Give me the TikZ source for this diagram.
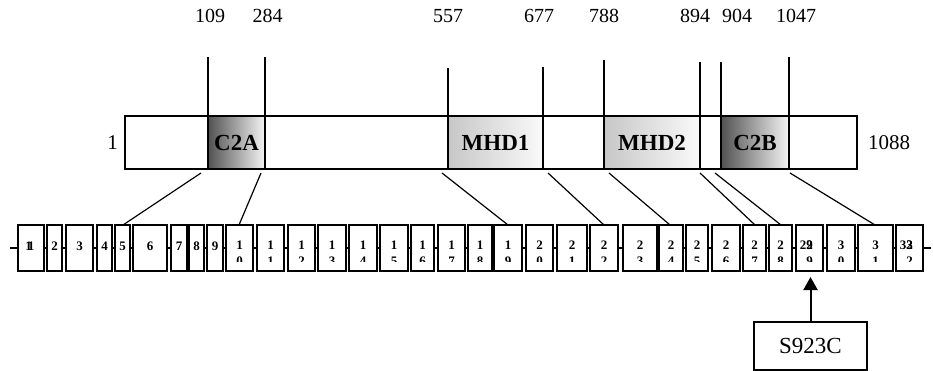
\documentclass[tikz,border=0pt]{standalone}
\usepackage{fontspec}
\setmainfont{Liberation Serif}
\usetikzlibrary{arrows.meta}
\begin{document}
\begin{tikzpicture}[x=1pt,y=-1pt,
  seg/.style={draw=black,line width=1.6pt,inner sep=0pt,outer sep=0pt,minimum height=53pt,font=\fontsize{23}{26}\selectfont\bfseries},
  c2/.style={left color=black!68,right color=black!4},
  mhd/.style={left color=black!22,right color=black!2},
  exon/.style={draw=black,fill=white,line width=1.6pt,inner sep=0pt,outer sep=0pt,minimum height=46pt},
  elab/.style={inner sep=0pt,anchor=base,font=\fontsize{13}{15}\selectfont\bfseries},
  num/.style={inner sep=0pt,anchor=base,font=\fontsize{20}{24}\selectfont},
  tick/.style={line width=1.1pt},
  conn/.style={line width=1.2pt},
]
\useasboundingbox (0,0) rectangle (933,371);
% axis line
\coordinate (axL) at (10,248);
\coordinate (axR) at (931,248);
\draw[line width=1.3pt] (axL) -- (axR);
% protein bar
\node[seg,minimum width=83pt] (b0) at (166.5,142.5) {};
\node[seg,c2,minimum width=57pt] (C2A) at (236.5,142.5) {C2A};
\node[seg,minimum width=183pt] (b1) at (356.5,142.5) {};
\node[seg,mhd,minimum width=95pt] (MHD1) at (495.5,142.5) {MHD1};
\node[seg,minimum width=61pt] (b2) at (573.5,142.5) {};
\node[seg,mhd,minimum width=96pt] (MHD2) at (652,142.5) {MHD2};
\node[seg,minimum width=21pt] (b3) at (710.5,142.5) {};
\node[seg,c2,minimum width=68pt] (C2B) at (755,142.5) {C2B};
\node[seg,minimum width=68pt] (b4) at (823,142.5) {};
\node[num,font=\fontsize{21}{24}\selectfont] (n1) at (112.5,150) {1};
\node[num,font=\fontsize{21}{24}\selectfont] (n1088) at (889,150) {1088};
% ticks and labels above
\coordinate (t1) at (208,57);
\coordinate (t2) at (265,57);
\coordinate (t3) at (448,68);
\coordinate (t4) at (543,67);
\coordinate (t5) at (604,60);
\coordinate (t6) at (700,62);
\coordinate (t7) at (721,62);
\coordinate (t8) at (789,57);
\draw[tick] (t1) -- (C2A.north west);
\draw[tick] (t2) -- (C2A.north east);
\draw[tick] (t3) -- (MHD1.north west);
\draw[tick] (t4) -- (MHD1.north east);
\draw[tick] (t5) -- (MHD2.north west);
\draw[tick] (t6) -- (MHD2.north east);
\draw[tick] (t7) -- (C2B.north west);
\draw[tick] (t8) -- (C2B.north east);
\node[num] (p109) at (210,23) {109};
\node[num] (p284) at (267.5,23) {284};
\node[num] (p557) at (448,23) {557};
\node[num] (p677) at (539,23) {677};
\node[num] (p788) at (604,23) {788};
\node[num] (p894) at (695,23) {894};
\node[num] (p904) at (737,23) {904};
\node[num] (p1047) at (796,23) {1047};
% exons
\foreach \n/\a/\b in {1/18/44,2/47/62,3/66/93,4/97/112,5/115/130,6/133/167,7/171/187,8/189/204,9/207/223,
  10/226/253,11/257/284,12/288/315,13/318/346,14/349/377,15/380/408,16/411/434,17/438/465,18/468/492,
  19/494/522,20/526/553,21/557/587,22/590/618,23/623/657,24/659/683,25/686/708,26/712/740,27/743/766,
  28/769/792,29/796/823,30/827/855,31/858/893,32/896/923}
  {\node[exon,minimum width={\b-\a}] (e\n) at ({(\a+\b)/2},248) {};}
% exon labels
\begin{scope}
\clip (0,200) rectangle (933,261);
\foreach \n in {1,...,9}
  {\node[elab] (la\n) at (e\n.center |- 0,250) {\n};}
\foreach \n in {10,...,32}
  {\pgfmathtruncatemacro\da{\n/10}\pgfmathtruncatemacro\db{mod(\n,10)}
   \node[elab] (la\n) at (e\n.center |- 0,249) {\da};
   \node[elab] (lb\n) at (e\n.center |- 0,265) {\db};}
\node[elab] (x1) at ([xshift=-2.5pt]la1.base) {1};
\node[elab] (x29) at ([xshift=-3.2pt]la29.base) {29};
\node[elab] (x32) at ([xshift=-3.2pt]la32.base) {32};
\end{scope}
% connectors
\coordinate (c1a) at (201,173); \coordinate (c1b) at (123,225);
\coordinate (c2a) at (261,173); \coordinate (c2b) at (239,225);
\coordinate (c3a) at (442,173); \coordinate (c3b) at (508,225);
\coordinate (c4a) at (548,173); \coordinate (c4b) at (604,225);
\coordinate (c5a) at (609,173); \coordinate (c5b) at (670,225);
\coordinate (c6a) at (700,173); \coordinate (c6b) at (755,225);
\coordinate (c7a) at (715,173); \coordinate (c7b) at (781,225);
\coordinate (c8a) at (790,173); \coordinate (c8b) at (875,225);
\foreach \i in {1,...,8} {\draw[conn] (c\i a) -- (c\i b);}
% mutation box and arrow
\node[draw=black,line width=1.3pt,minimum width=113pt,minimum height=48pt,inner sep=0pt,outer sep=0pt,
  font=\fontsize{23}{26}\selectfont,text depth=0pt] (mut) at (810.5,346) {S923C};
\draw[line width=2pt,-{Triangle[width=14pt,length=13pt]},shorten >=6pt] (mut.north) -- (mut.north |- e29.south);
\end{tikzpicture}
\end{document}
